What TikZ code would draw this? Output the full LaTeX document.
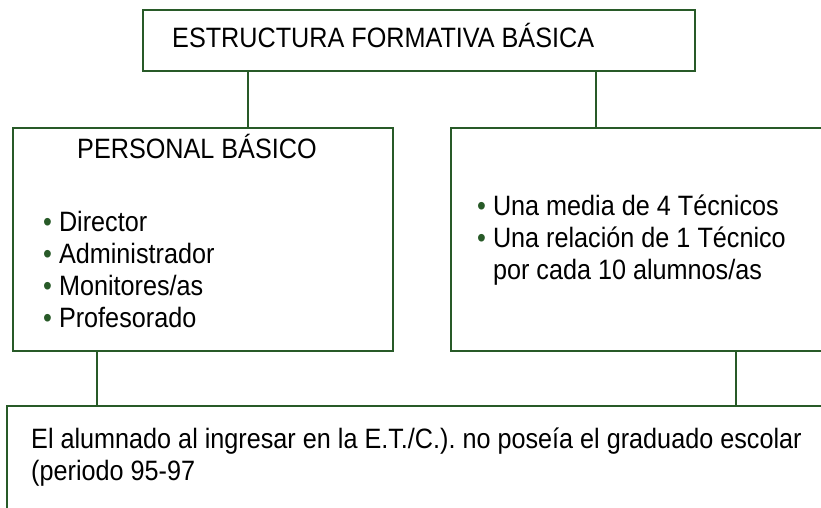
\documentclass[tikz,border=0pt]{standalone}
\usepackage{fontspec}
\setmainfont{Liberation Sans}[FakeStretch=0.9]
\usetikzlibrary{positioning}
\frenchspacing
\definecolor{marco}{RGB}{40,90,40}
\newcommand{\punto}{\textcolor{marco}{\textbullet}\hspace{7pt}}
\newcommand{\sangria}{\hphantom{\textbullet}\hspace{7pt}}
\tikzstyle{caja} = [rectangle, draw=marco, line width=1.4pt, inner sep=0pt]
\tikzstyle{texto} = [anchor=base west, inner sep=0pt, font=\fontsize{28}{32}\selectfont]
\tikzstyle{enlace} = [draw=marco, line width=1.4pt]

\begin{document}
\begin{tikzpicture}[x=1pt, y=-1pt]
\useasboundingbox (0,0) rectangle (821,508);

% Define nodes
\node[caja, minimum width=552pt, minimum height=61pt]  (est) at (419,40.5)  {};
\node[caja, minimum width=380pt, minimum height=223pt] (per) at (203,239.5) {};
\node[caja, minimum width=450pt, minimum height=223pt] (tec) at (676,239.5) {};
\node[caja, minimum width=893pt, minimum height=154pt] (alu) at (453.5,483) {};

\node[texto] (tit) at (172,48)  {ESTRUCTURA FORMATIVA BÁSICA};
\node[texto] (pb)  at (77,158)  {PERSONAL BÁSICO};

\node[texto] (d1) at (43,231) {\punto Director};
\node[texto] (d2) at (43,263) {\punto Administrador};
\node[texto] (d3) at (43,295) {\punto Monitores/as};
\node[texto] (d4) at (43,327) {\punto Profesorado};

\node[texto] (t1) at (477,215) {\punto Una media de 4 Técnicos};
\node[texto] (t2) at (477,247) {\punto Una relación de 1 Técnico};
\node[texto] (t3) at (477,279) {\sangria por cada 10 alumnos/as};

\node[texto] (a1) at (31,448) {El alumnado al ingresar en la E.T./C.). no poseía el graduado escolar};
\node[texto] (a2) at (31,480) {(periodo 95-97};

\coordinate (e1) at (248,0);
\coordinate (e2) at (596,0);
\coordinate (e3) at (97,0);
\coordinate (e4) at (736,0);

% Edges
\draw[enlace] (e1 |- est.south) -- (e1 |- per.north);
\draw[enlace] (e2 |- est.south) -- (e2 |- tec.north);
\draw[enlace] (e3 |- per.south) -- (e3 |- alu.north);
\draw[enlace] (e4 |- tec.south) -- (e4 |- alu.north);
\end{tikzpicture}
\end{document}
